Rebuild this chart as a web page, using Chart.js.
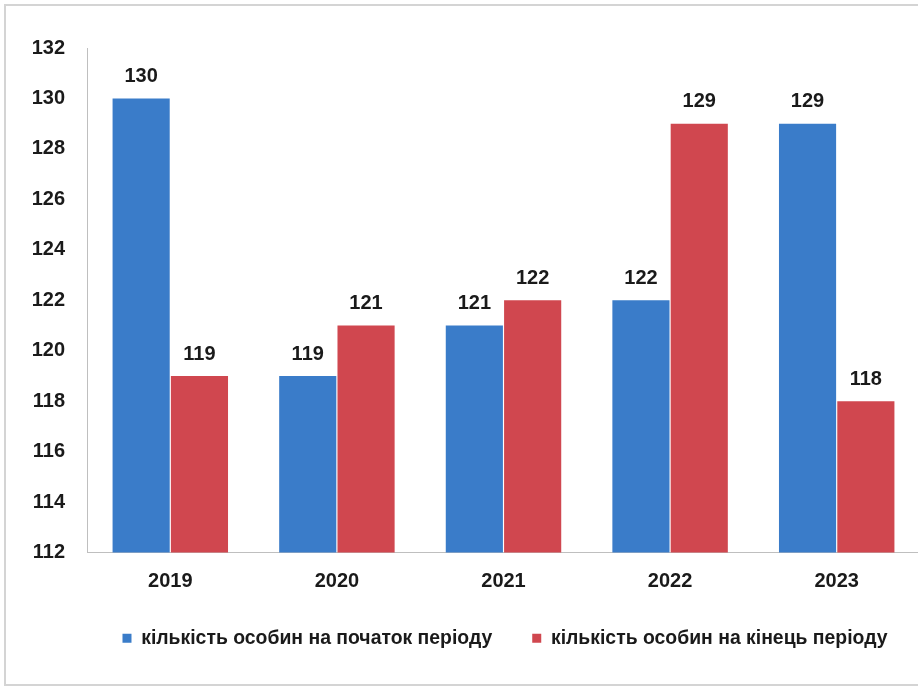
<!DOCTYPE html>
<html>
<head>
<meta charset="utf-8">
<script src="https://cdn.jsdelivr.net/npm/chart.js@4.4.0/dist/chart.umd.min.js"></script>
<style>
html,body{margin:0;padding:0;background:#fff;overflow:hidden;width:918px;height:691px;}
#frame{position:absolute;left:4px;top:4px;width:1100px;height:682px;border:2px solid #d4d4d4;box-sizing:border-box;}
#wrap{position:absolute;left:0;top:0;width:1010px;height:691px;}
</style>
</head>
<body>
<div id="frame"></div>
<div id="wrap"><canvas id="c" width="1010" height="691"></canvas></div>
<script>
const categories = ["2019", "2020", "2021", "2022", "2023"];
const startValues = [130, 119, 121, 122, 129];
const endValues = [119, 121, 122, 129, 118];
const seriesNames = ["кількість особин на початок періоду", "кількість особин на кінець періоду"];
const yMin = 112, yMax = 132, yStep = 2;

const FONT = "'Liberation Sans', Arial, sans-serif";

const labelPlugin = {
  id: 'barLabels',
  afterDatasetsDraw(chart) {
    const ctx = chart.ctx;
    ctx.save();
    ctx.font = "bold 20px " + FONT;
    ctx.fillStyle = "#1a1a1a";
    ctx.textAlign = "center";
    ctx.textBaseline = "middle";
    chart.data.datasets.forEach((ds, i) => {
      const meta = chart.getDatasetMeta(i);
      meta.data.forEach((bar, j) => {
        ctx.fillText(String(ds.data[j]), bar.x, bar.y - 22);
      });
    });
    ctx.restore();
  }
};

new Chart(document.getElementById('c'), {
  type: 'bar',
  data: {
    labels: categories,
    datasets: [
      { label: seriesNames[0], data: startValues, backgroundColor: '#3a7cc9', borderWidth: 0 },
      { label: seriesNames[1], data: endValues, backgroundColor: '#d0474f', borderWidth: 0 }
    ]
  },
  options: {
    responsive: false,
    animation: false,
    devicePixelRatio: 1,
    layout: { padding: { left: 0, right: 0, top: 48, bottom: 33 } },
    plugins: {
      legend: {
        position: 'bottom',
        labels: {
          boxWidth: 9, boxHeight: 9, padding: 40,
          color: '#1a1a1a',
          font: { family: FONT, size: 19.4, weight: 'bold' }
        }
      },
      tooltip: { enabled: false }
    },
    datasets: { bar: { categoryPercentage: 0.7, barPercentage: 0.98 } },
    scales: {
      x: {
        grid: { display: false },
        border: { display: true, color: '#bfbfbf', width: 1 },
        ticks: { color: '#1a1a1a', font: { family: FONT, size: 20, weight: 'bold' }, padding: 9 },
        afterFit(s) { s.height = 36; }
      },
      y: {
        min: yMin, max: yMax,
        grid: { display: false },
        border: { display: true, color: '#bfbfbf', width: 1 },
        ticks: { stepSize: yStep, color: '#1a1a1a', font: { family: FONT, size: 20, weight: 'bold' }, padding: 14 },
        afterFit(s) { s.width = 87; }
      },
      yRight: {
        position: 'right',
        display: true,
        grid: { display: false, drawTicks: false },
        border: { display: false },
        ticks: { display: false },
        afterFit(s) { s.width = 90; }
      }
    }
  },
  plugins: [labelPlugin]
});
</script>
</body>
</html>
